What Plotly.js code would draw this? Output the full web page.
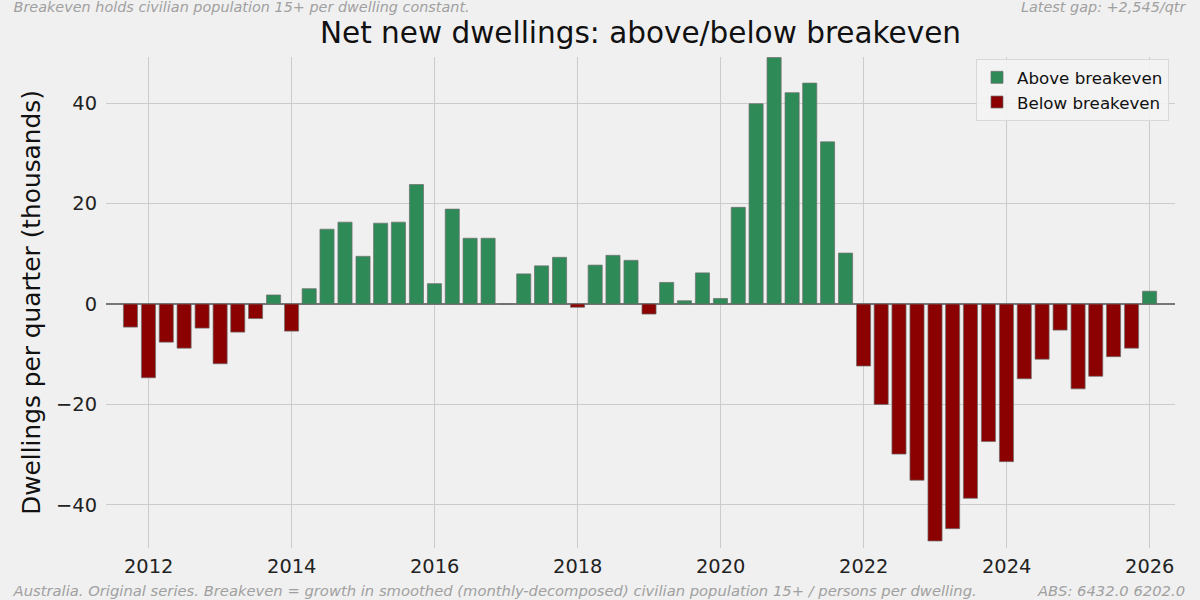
<!DOCTYPE html>
<html>
<head>
<meta charset="utf-8">
<script src="https://cdn.plot.ly/plotly-3.0.1.min.js"></script>
<style>
  body { margin: 0; background: #f0f0f0; }
  #chart { width: 1200px; height: 600px; }
</style>
</head>
<body>
<div id="chart"></div>
<script>
// quarter-end dates, Sep 2011 .. Dec 2025
var quarters = [
	'2011-09-30', '2011-12-31',
	'2012-03-31', '2012-06-30', '2012-09-30', '2012-12-31',
	'2013-03-31', '2013-06-30', '2013-09-30', '2013-12-31',
	'2014-03-31', '2014-06-30', '2014-09-30', '2014-12-31',
	'2015-03-31', '2015-06-30', '2015-09-30', '2015-12-31',
	'2016-03-31', '2016-06-30', '2016-09-30', '2016-12-31',
	'2017-03-31', '2017-06-30', '2017-09-30', '2017-12-31',
	'2018-03-31', '2018-06-30', '2018-09-30', '2018-12-31',
	'2019-03-31', '2019-06-30', '2019-09-30', '2019-12-31',
	'2020-03-31', '2020-06-30', '2020-09-30', '2020-12-31',
	'2021-03-31', '2021-06-30', '2021-09-30', '2021-12-31',
	'2022-03-31', '2022-06-30', '2022-09-30', '2022-12-31',
	'2023-03-31', '2023-06-30', '2023-09-30', '2023-12-31',
	'2024-03-31', '2024-06-30', '2024-09-30', '2024-12-31',
	'2025-03-31', '2025-06-30', '2025-09-30', '2025-12-31'
];

// net new dwellings minus breakeven, thousands per quarter
var gap = [
	-4.6, -14.7,
	-7.6, -8.8, -4.8, -11.9,
	-5.6, -2.9, 1.8, -5.4,
	3.05, 14.9, 16.3, 9.5,
	16.1, 16.3, 23.8, 4.05,
	18.9, 13.1, 13.1, 0,
	6.0, 7.6, 9.3, -0.65,
	7.75, 9.7, 8.7, -2.0,
	4.3, 0.65, 6.2, 1.1,
	19.25, 39.9, 49.1, 42.1,
	44.0, 32.3, 10.15, -12.35,
	-20.0, -29.9, -35.1, -47.2,
	-44.75, -38.7, -27.4, -31.4,
	-14.9, -11.0, -5.2, -16.9,
	-14.4, -10.5, -8.8, 2.545
];

var yTicks = [-40, -20, 0, 20, 40];
var xTicks = ['2012-01-01', '2014-01-01', '2016-01-01', '2018-01-01',
              '2020-01-01', '2022-01-01', '2024-01-01', '2026-01-01'];
var xTickText = ['2012', '2014', '2016', '2018', '2020', '2022', '2024', '2026'];

var FONT = 'DejaVu Sans, Liberation Sans, sans-serif';
var BAR_W = 72 * 24 * 3600 * 1000; // ~72 days

// split into above / below so each gets its own colour + legend entry
var above = gap.map(function(v) { return v >= 0 ? v : null; });
var below = gap.map(function(v) { return v < 0 ? v : null; });

var trace_above = {
	x: quarters,
	y: above,
	type: 'bar',
	name: 'Above breakeven',
	width: BAR_W,
	hoverinfo: 'x+y',
	marker: {
		color: '#2e8b57',
		line: { color: 'rgba(110,110,110,0.7)', width: 1 }
	}
};
var trace_below = {
	x: quarters,
	y: below,
	type: 'bar',
	name: 'Below breakeven',
	width: BAR_W,
	hoverinfo: 'x+y',
	marker: {
		color: '#8b0000',
		line: { color: 'rgba(110,110,110,0.7)', width: 1 }
	}
};

var noteTop = { family: FONT, size: 14.4, color: '#a0a0a0' };
var noteBottom = { family: FONT, size: 14.75, color: '#a0a0a0' };

var layout = {
	width: 1200,
	height: 600,
	paper_bgcolor: '#f0f0f0',
	plot_bgcolor: '#f0f0f0',
	margin: { l: 106, r: 25, t: 57, b: 52 },
	barmode: 'overlay',
	font: { family: FONT, color: '#222' },
	title: {
		text: 'Net new dwellings: above/below breakeven',
		font: { family: FONT, size: 29.5, color: '#111' },
		x: 0.5, xref: 'paper', xanchor: 'center',
		y: 0.945, yref: 'container', yanchor: 'middle'
	},
	xaxis: {
		type: 'date',
		range: ['2011-05-28', '2026-05-10'],
		tickvals: xTicks,
		ticktext: xTickText,
		tickfont: { family: FONT, size: 19.4, color: '#222' },
		showgrid: true,
		gridcolor: '#cbcbcb',
		gridwidth: 1.3,
		zeroline: false,
		showline: false,
		ticks: '',
		ticklabelstandoff: 5
	},
	yaxis: {
		range: [-48.6, 49.2],
		tickvals: yTicks,
		tickfont: { family: FONT, size: 19.4, color: '#222' },
		showgrid: true,
		gridcolor: '#cbcbcb',
		gridwidth: 1.3,
		zeroline: true,
		zerolinecolor: '#777777',
		zerolinewidth: 1.6,
		showline: false,
		ticks: '',
		ticklabelstandoff: 8,
		title: {
			text: 'Dwellings per quarter (thousands)',
			font: { family: FONT, size: 24.8, color: '#111' },
			standoff: 8
		}
	},
	legend: {
		x: 0.9944, y: 0.996,
		xanchor: 'right', yanchor: 'top',
		bgcolor: 'rgba(243,243,243,0.9)',
		bordercolor: '#d8d8d8',
		borderwidth: 1,
		font: { family: FONT, size: 16.7, color: '#111' },
		tracegroupgap: 2
	},
	annotations: [
		{ text: 'Breakeven holds civilian population 15+ per dwelling constant.',
		  xref: 'paper', yref: 'paper', x: -0.0879, y: 1.1014,
		  xanchor: 'left', yanchor: 'middle', showarrow: false, font: noteTop },
		{ text: 'Latest gap: +2,545/qtr',
		  xref: 'paper', yref: 'paper', x: 1.0112, y: 1.1014,
		  xanchor: 'right', yanchor: 'middle', showarrow: false, font: noteTop },
		{ text: 'Australia. Original series. Breakeven = growth in smoothed (monthly-decomposed) civilian population 15+ / persons per dwelling.',
		  xref: 'paper', yref: 'paper', x: -0.0879, y: -0.0866,
		  xanchor: 'left', yanchor: 'middle', showarrow: false, font: noteBottom },
		{ text: 'ABS: 6432.0 6202.0',
		  xref: 'paper', yref: 'paper', x: 1.0112, y: -0.0866,
		  xanchor: 'right', yanchor: 'middle', showarrow: false, font: noteBottom }
	]
};

Plotly.newPlot('chart', [trace_above, trace_below], layout, { displayModeBar: false, staticPlot: true })
	.then(function() {
		// footnotes are italic in the reference
		document.querySelectorAll('.annotation-text').forEach(function(t) {
			t.style.fontStyle = 'italic';
		});
	});
</script>
</body>
</html>
